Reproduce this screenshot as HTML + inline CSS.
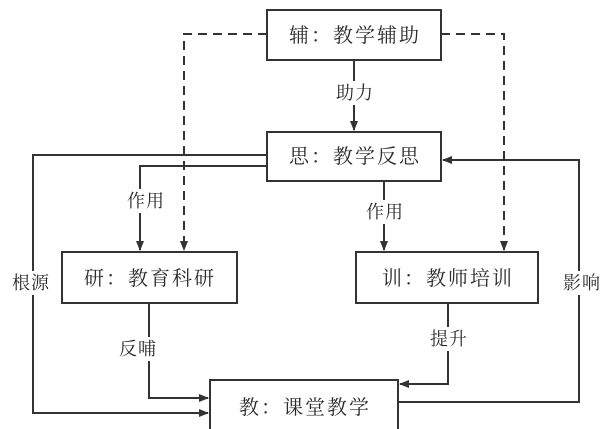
<!DOCTYPE html>
<html><head><meta charset="utf-8"><style>
html,body{margin:0;padding:0;background:#fff;width:606px;height:429px;overflow:hidden}
text{font-family:"Liberation Serif","Noto Serif CJK SC","Noto Sans CJK SC",serif;fill:#2a2a2a}
</style></head><body>
<svg width="606" height="429" viewBox="0 0 606 429" xmlns="http://www.w3.org/2000/svg">
<defs><marker id="a" markerWidth="10" markerHeight="8" refX="9" refY="4" orient="auto" markerUnits="userSpaceOnUse"><path d="M0,0 L10,4 L0,8 z" fill="#333"/></marker></defs>
<g stroke="#333" stroke-width="2" fill="none">
<path d="M267,34 H184 V250" stroke-dasharray="9,6" marker-end="url(#a)"/>
<path d="M441,34 H504 V250" stroke-dasharray="9,6" marker-end="url(#a)"/>
<path d="M354,60 V130" marker-end="url(#a)"/>
<path d="M267,155 H33 V413 H208" marker-end="url(#a)"/>
<path d="M267,166 H140 V250" marker-end="url(#a)"/>
<path d="M384,181 V250" marker-end="url(#a)"/>
<path d="M398,402 H579 V160 H443" marker-end="url(#a)"/>
<path d="M149,303 V398 H208" marker-end="url(#a)"/>
<path d="M448,303 V384 H400" marker-end="url(#a)"/>
</g>
<g fill="#fff" stroke="#333" stroke-width="2">
<rect x="267" y="10" width="174" height="50"/>
<rect x="267" y="132" width="174" height="49"/>
<rect x="62" y="252" width="175" height="51"/>
<rect x="356" y="252" width="182" height="51"/>
<rect x="210" y="380" width="188" height="52"/>
</g>
<g fill="#fff">
<rect x="330" y="81" width="48" height="24"/>
<rect x="120" y="189" width="50" height="24"/>
<rect x="358" y="200" width="52" height="24"/>
<rect x="4" y="271" width="52" height="24"/>
<rect x="556" y="271" width="50" height="24"/>
<rect x="110" y="337" width="54" height="24"/>
<rect x="422" y="327" width="52" height="24"/>
</g>
<g font-size="20" text-anchor="middle" letter-spacing="2">
<text x="355" y="42">辅：教学辅助</text>
<text x="355" y="163">思：教学反思</text>
<text x="150" y="285">研：教育科研</text>
<text x="448" y="285">训：教师培训</text>
<text x="305" y="414">教：课堂教学</text>
</g>
<g font-size="18" text-anchor="middle" letter-spacing="1">
<text x="355" y="99">助力</text>
<text x="146" y="207">作用</text>
<text x="385" y="218">作用</text>
<text x="31" y="289">根源</text>
<text x="582" y="289">影响</text>
<text x="138" y="355">反哺</text>
<text x="449" y="345">提升</text>
</g>
</svg>
</body></html>
